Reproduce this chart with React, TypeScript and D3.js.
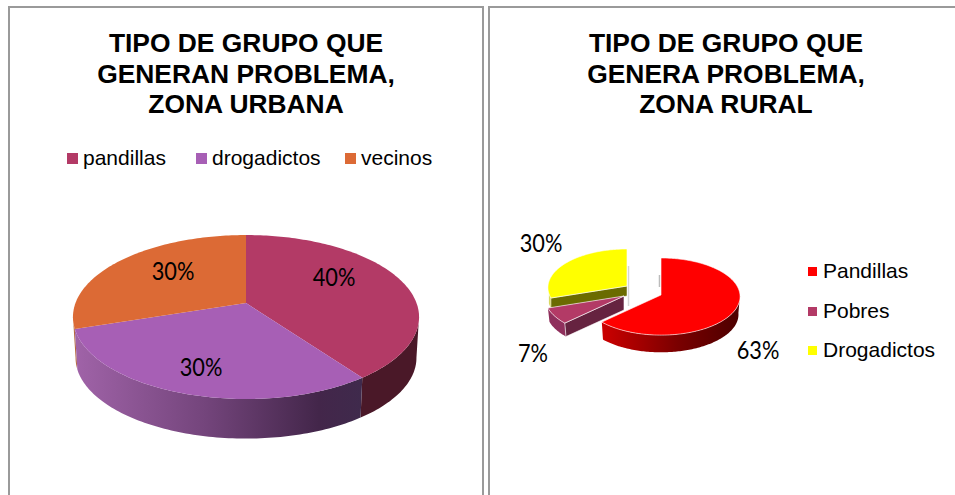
import React from "react";
import * as d3 from "d3";

const urbanTitle = ["TIPO DE GRUPO QUE", "GENERAN PROBLEMA,", "ZONA URBANA"];
const ruralTitle = ["TIPO DE GRUPO QUE", "GENERA PROBLEMA,", "ZONA RURAL"];
const urbanCategories = ["pandillas", "drogadictos", "vecinos"];
const urbanValues = [40, 30, 30];
const urbanColors = ["#b33a66", "#a75fb5", "#dc6a35"];
const ruralCategories = ["Pandillas", "Pobres", "Drogadictos"];
const ruralValues = [63, 7, 30];
const ruralColors = ["#ff0000", "#b33a66", "#ffff00"];

type Pt = [number, number];
type Proj = { cx: number; y0: number; B: number; A: number; p: number };

const project = (g: Proj, a: number): Pt => {
  const X = Math.sin(a), Y = -Math.cos(a), w = 1 - g.p * Y;
  return [g.cx + (g.B * X) / w, g.y0 + (g.A * Y) / w];
};
const arcPts = (g: Proj, a0: number, a1: number): Pt[] => {
  const n = Math.max(2, Math.ceil(Math.abs(a1 - a0) / 0.02));
  return d3.range(n + 1).map((i) => project(g, a0 + ((a1 - a0) * i) / n));
};
const line = d3.line<Pt>().x((d) => d[0]).y((d) => d[1]);
const closed = (pts: Pt[]) => line(pts) + "Z";
const pieAngles = (vals: number[]) => d3.pie<number>().sort(null)(vals);

const withDepth = (g: Proj, dy: number, s: number): Proj => ({ ...g, y0: g.y0 + dy, B: g.B * s, A: g.A * s });
const shift = (g: Proj, dx: number, dy: number): Proj => ({ ...g, cx: g.cx + dx, y0: g.y0 + dy });

const rim = (top: Proj, bot: Proj, a0: number, a1: number) =>
  closed([...arcPts(top, a0, a1), ...arcPts(bot, a1, a0)]);

const Frame = ({ x, w }: { x: number; w: number }) => (
  <rect x={x} y={7} width={w} height={520} fill="#fff" stroke="#9a9a9a" strokeWidth={2} />
);

const Title = ({ lines, cx }: { lines: string[]; cx: number }) => (
  <text textAnchor="middle" fontFamily="Liberation Sans" fontWeight="bold" fontSize={26.4} fill="#000">
    {lines.map((t, i) => (
      <tspan key={i} x={cx} y={52 + i * 30.5}>{t}</tspan>
    ))}
  </text>
);

const Pct = ({ v, x, y }: { v: number; x: number; y: number }) => (
  <text transform={`translate(${x},${y}) scale(0.87,1)`} textAnchor="middle" fontFamily="Lato" fontSize={25} fill="#000">{v}%</text>
);

const Urban = () => {
  const g: Proj = { cx: 246, y0: 303, B: 170.5, A: 79.6, p: 0.171 };
  const b = withDepth(g, 41, 0.985);
  const arcs = pieAngles(urbanValues);
  const legendX = [67, 196, 345];
  const labelPos: Pt[] = [[334, 286], [201, 376], [173, 280]];
  const rightmost = Math.PI / 2 + 0.17;
  const leftmost = (3 * Math.PI) / 2 - 0.17;
  return (
    <g>
      <defs>
        <linearGradient id="uSide" gradientUnits="userSpaceOnUse" x1={75} x2={362} y1={0} y2={0}>
          <stop offset="0" stopColor="#a063a8" />
          <stop offset="0.45" stopColor="#74457c" />
          <stop offset="0.85" stopColor="#43264a" />
          <stop offset="1" stopColor="#3f2a4c" />
        </linearGradient>
      </defs>
      <path d={rim(g, b, arcs[2].startAngle, leftmost)} fill="#b5683f" />
      <path d={rim(g, b, rightmost, arcs[0].endAngle)} fill="#4a1828" />
      <path d={rim(g, b, arcs[1].startAngle, arcs[1].endAngle)} fill="url(#uSide)" />
      {arcs.map((a, i) => (
        <path key={i} d={closed([[g.cx, g.y0], ...arcPts(g, a.startAngle, a.endAngle)])} fill={urbanColors[i]} />
      ))}
      {urbanValues.map((v, i) => (
        <Pct key={i} v={v} x={labelPos[i][0]} y={labelPos[i][1]} />
      ))}
      {urbanCategories.map((c, i) => (
        <g key={c}>
          <rect x={legendX[i]} y={153} width={11} height={11} fill={urbanColors[i]} />
          <text x={legendX[i] + 16} y={165} fontFamily="Liberation Sans" fontSize={21} fill="#000">{c}</text>
        </g>
      ))}
    </g>
  );
};

const Rural = () => {
  const g: Proj = { cx: 661, y0: 295, B: 79, A: 38.5, p: 0.04 };
  const b = withDepth(g, 18, 0.98);
  const arcs = pieAngles(ruralValues);
  const offsets: Pt[] = [[0, 0], [-37, 1], [-34, -9]];
  const labelPos: Pt[] = [[758, 359], [533, 362], [541, 252]];
  const legendY = [267, 307, 346];
  const legendBase = [277.5, 318, 357];

  const red = arcs[0];
  const pink = arcs[1];
  const yel = arcs[2];
  const gP = shift(g, ...offsets[1]);
  const bP = shift(withDepth(g, 14, 0.98), ...offsets[1]);
  const gY = shift(g, ...offsets[2]);
  const bY = withDepth(gY, 10, 1);

  return (
    <g>
      <defs>
        <linearGradient id="rSide" gradientUnits="userSpaceOnUse" x1={602} x2={740} y1={0} y2={0}>
          <stop offset="0" stopColor="#cc0000" />
          <stop offset="0.55" stopColor="#7a0000" />
          <stop offset="1" stopColor="#4c0000" />
        </linearGradient>
      </defs>
      <line x1={gY.cx + 1.5} x2={gY.cx + 1.5} y1={gY.y0 - 20} y2={gY.y0 + 20} stroke="#d5d5d5" strokeWidth={1.5} />
      <line x1={g.cx - 1.5} x2={g.cx - 1.5} y1={g.y0 - 20} y2={g.y0 - 8} stroke="#bbb" strokeWidth={1.5} />
      <path d={rim(gY, bY, yel.startAngle, yel.startAngle + 0.12)} fill="#d8d860" />
      <path d={closed([[gY.cx, gY.y0], project(gY, yel.startAngle), project(bY, yel.startAngle), [bY.cx, bY.y0]])} fill="#6b6b00" stroke="#fff" strokeWidth={0.5} />
      <path d={closed([[gY.cx, gY.y0], ...arcPts(gY, yel.startAngle, yel.endAngle)])} fill={ruralColors[2]} stroke="#fff" strokeWidth={0.6} />
      <path d={rim(gP, bP, pink.startAngle, pink.endAngle)} fill="#8f2f5c" />
      <path d={closed([[gP.cx, gP.y0], project(gP, pink.startAngle), project(bP, pink.startAngle), [bP.cx, bP.y0]])} fill="#662340" stroke="#fff" strokeWidth={0.6} />
      <path d={closed([[gP.cx, gP.y0], ...arcPts(gP, pink.startAngle, pink.endAngle)])} fill={ruralColors[1]} stroke="#fff" strokeWidth={0.6} />
      <path d={rim(g, b, Math.PI / 2, red.endAngle)} fill="url(#rSide)" />
      <path d={closed([[g.cx, g.y0], ...arcPts(g, red.startAngle, red.endAngle)])} fill={ruralColors[0]} stroke="#fff" strokeWidth={0.6} />
      {ruralValues.map((v, i) => (
        <Pct key={i} v={v} x={labelPos[i][0]} y={labelPos[i][1]} />
      ))}
      {ruralCategories.map((c, i) => (
        <g key={c}>
          <rect x={808} y={legendY[i]} width={9} height={9} fill={ruralColors[i]} />
          <text x={823} y={legendBase[i]} fontFamily="Liberation Sans" fontSize={21} fill="#000">{c}</text>
        </g>
      ))}
    </g>
  );
};

export default function App() {
  return (
    <svg width={955} height={495} style={{ position: "fixed", left: 0, top: 0, display: "block" }}>
      <rect width={955} height={495} fill="#fff" />
      <Frame x={9} w={474} />
      <Frame x={489} w={480} />
      <Title lines={urbanTitle} cx={246} />
      <Title lines={ruralTitle} cx={726} />
      <Urban />
      <Rural />
    </svg>
  );
}
